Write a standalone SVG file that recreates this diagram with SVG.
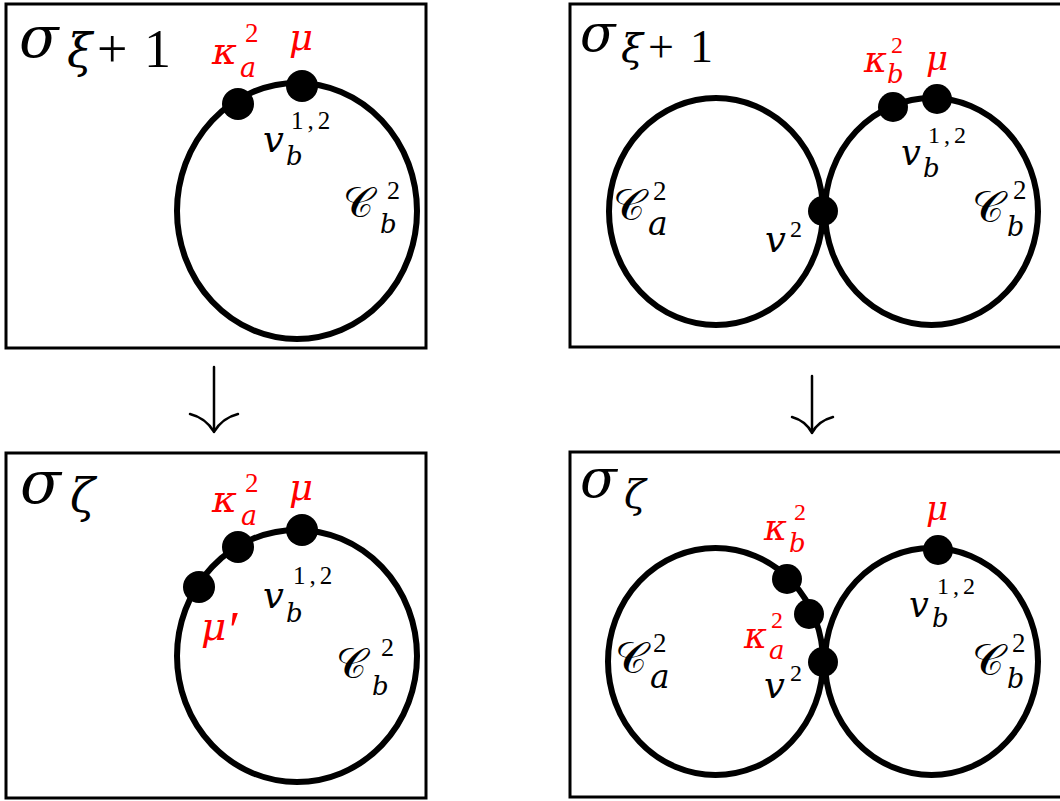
<svg xmlns="http://www.w3.org/2000/svg" width="1060" height="801" viewBox="0 0 1060 801">
<style>
.frame{fill:none;stroke:#000;stroke-width:3}
.curve{fill:none;stroke:#000;stroke-width:6}
.dot{fill:#000}
.m{font-family:"DejaVu Serif",serif;font-style:italic;fill:#000}
.n{font-family:"Liberation Serif",serif;font-style:normal;fill:#000}
.cal{font-family:"DejaVu Serif","DejaVu Sans",serif;font-style:normal;fill:#000}
.r{fill:#ff0000}
.arrow{fill:none;stroke:#000;stroke-width:2.5;stroke-linecap:round}
</style>
<rect width="1060" height="801" fill="#fff"/>

<g id="panel-top-left">
  <rect class="frame" x="6" y="4" width="420" height="344"/>
  <text class="m" x="19" y="57" font-size="58">σ</text>
  <text class="m" x="67" y="67" font-size="46">ξ</text>
  <text class="n" x="97" y="67" font-size="54">+</text>
  <text class="n" x="144" y="67" font-size="54">1</text>
  <ellipse id="curve-Cb-1" class="curve" cx="297" cy="211" rx="120" ry="128"/>
  <g id="node-kappa-a-1">
    <circle class="dot" cx="238" cy="104" r="16"/>
    <text class="m r" x="212" y="64" font-size="38">κ</text>
    <text class="m r" x="240" y="77" font-size="27">a</text>
    <text class="n r" x="245" y="42" font-size="27">2</text>
  </g>
  <g id="node-mu-1">
    <circle class="dot" cx="302" cy="86" r="16"/>
    <text class="m r" x="289" y="50" font-size="37">μ</text>
    <text class="m" x="263" y="152" font-size="37">v</text>
    <text class="m" x="286" y="165" font-size="26">b</text>
    <text class="n" x="291" y="129" font-size="25" letter-spacing="4">1,2</text>
  </g>
  <g id="label-Cb-1">
    <text class="cal" x="343" y="217" font-size="42">𝒞</text>
    <text class="m" x="380" y="233" font-size="26">b</text>
    <text class="n" x="387" y="199" font-size="26">2</text>
  </g>
</g>

<g id="panel-top-right">
  <rect class="frame" x="570" y="4" width="500" height="343"/>
  <text class="m" x="580" y="51" font-size="52">σ</text>
  <text class="m" x="621" y="62" font-size="40">ξ</text>
  <text class="n" x="648" y="62" font-size="46">+</text>
  <text class="n" x="690" y="62" font-size="46">1</text>
  <ellipse id="curve-Ca-2" class="curve" cx="716" cy="211.5" rx="107" ry="113.5"/>
  <ellipse id="curve-Cb-2" class="curve" cx="931.5" cy="211.5" rx="106.5" ry="113.5"/>
  <g id="node-v2-2">
    <circle class="dot" cx="823" cy="211" r="15"/>
    <text class="m" x="765" y="252" font-size="37">v</text>
    <text class="n" x="790" y="237" font-size="24">2</text>
  </g>
  <g id="node-kappa-b-2">
    <circle class="dot" cx="893" cy="107" r="15"/>
    <text class="m r" x="864" y="72" font-size="35">κ</text>
    <text class="m r" x="887" y="83" font-size="26">b</text>
    <text class="n r" x="891" y="53" font-size="24">2</text>
  </g>
  <g id="node-mu-2">
    <circle class="dot" cx="937" cy="99" r="15"/>
    <text class="m r" x="926" y="70" font-size="34">μ</text>
    <text class="m" x="901" y="165" font-size="35">v</text>
    <text class="m" x="923" y="177" font-size="26">b</text>
    <text class="n" x="928" y="143" font-size="24" letter-spacing="4">1,2</text>
  </g>
  <g id="label-Ca-2">
    <text class="cal" x="613" y="220" font-size="44">𝒞</text>
    <text class="m" x="648" y="235" font-size="33">a</text>
    <text class="n" x="653" y="200" font-size="27">2</text>
  </g>
  <g id="label-Cb-2">
    <text class="cal" x="972" y="222" font-size="44">𝒞</text>
    <text class="m" x="1007" y="236" font-size="27">b</text>
    <text class="n" x="1013" y="199" font-size="27">2</text>
  </g>
</g>

<g id="panel-bottom-left">
  <rect class="frame" x="6" y="453" width="420" height="345"/>
  <text class="m" x="20" y="503" font-size="60">σ</text>
  <text class="m" x="70" y="512" font-size="46">ζ</text>
  <ellipse id="curve-Cb-3" class="curve" cx="297" cy="656" rx="120" ry="126"/>
  <g id="node-mu-prime-3">
    <circle class="dot" cx="199" cy="587" r="16"/>
    <text class="m r" x="201" y="640" font-size="39">μ</text>
    <text class="n r" x="229" y="648" font-size="52">′</text>
  </g>
  <g id="node-kappa-a-3">
    <circle class="dot" cx="238" cy="547" r="16"/>
    <text class="m r" x="212" y="512" font-size="38">κ</text>
    <text class="m r" x="241" y="525" font-size="27">a</text>
    <text class="n r" x="245" y="492" font-size="27">2</text>
  </g>
  <g id="node-mu-3">
    <circle class="dot" cx="302" cy="530" r="16"/>
    <text class="m r" x="289" y="500" font-size="37">μ</text>
    <text class="m" x="263" y="608" font-size="37">v</text>
    <text class="m" x="286" y="622" font-size="26">b</text>
    <text class="n" x="293" y="584" font-size="25" letter-spacing="4">1,2</text>
  </g>
  <g id="label-Cb-3">
    <text class="cal" x="336" y="678" font-size="42">𝒞</text>
    <text class="m" x="372" y="695" font-size="26">b</text>
    <text class="n" x="381" y="656" font-size="26">2</text>
  </g>
</g>

<g id="panel-bottom-right">
  <rect class="frame" x="570" y="452" width="500" height="345"/>
  <text class="m" x="580" y="497" font-size="54">σ</text>
  <text class="m" x="624" y="508" font-size="40">ζ</text>
  <ellipse id="curve-Ca-4" class="curve" cx="715.5" cy="661.5" rx="107.5" ry="113.5"/>
  <ellipse id="curve-Cb-4" class="curve" cx="931.5" cy="661.5" rx="106.5" ry="113.5"/>
  <g id="node-kappa-b-4">
    <circle class="dot" cx="787" cy="579" r="15"/>
    <text class="m r" x="764" y="540" font-size="35">κ</text>
    <text class="m r" x="789" y="552" font-size="26">b</text>
    <text class="n r" x="794" y="520" font-size="24">2</text>
  </g>
  <g id="node-kappa-a-4">
    <circle class="dot" cx="809" cy="614" r="15"/>
    <text class="m r" x="744" y="648" font-size="35">κ</text>
    <text class="m r" x="769" y="659" font-size="26">a</text>
    <text class="n r" x="771" y="628" font-size="24">2</text>
  </g>
  <g id="node-v2-4">
    <circle class="dot" cx="823" cy="662" r="15"/>
    <text class="m" x="764" y="698" font-size="37">v</text>
    <text class="n" x="790" y="681" font-size="24">2</text>
  </g>
  <g id="node-mu-4">
    <circle class="dot" cx="938" cy="550" r="15"/>
    <text class="m r" x="926" y="520" font-size="34">μ</text>
    <text class="m" x="909" y="617" font-size="35">v</text>
    <text class="m" x="932" y="627" font-size="26">b</text>
    <text class="n" x="937" y="594" font-size="24" letter-spacing="4">1,2</text>
  </g>
  <g id="label-Ca-4">
    <text class="cal" x="615" y="673" font-size="44">𝒞</text>
    <text class="m" x="650" y="688" font-size="33">a</text>
    <text class="n" x="653" y="652" font-size="27">2</text>
  </g>
  <g id="label-Cb-4">
    <text class="cal" x="972" y="675" font-size="44">𝒞</text>
    <text class="m" x="1007" y="688" font-size="27">b</text>
    <text class="n" x="1012" y="652" font-size="27">2</text>
  </g>
</g>

<g id="connectors">
  <path class="arrow" d="M214,367 V432 M190,414 Q206,418 214,432 M238,414 Q222,418 214,432"/>
  <path class="arrow" d="M812,376 V433 M792,417 Q806,421 812,433 M833,417 Q818,421 812,433"/>
</g>
</svg>
